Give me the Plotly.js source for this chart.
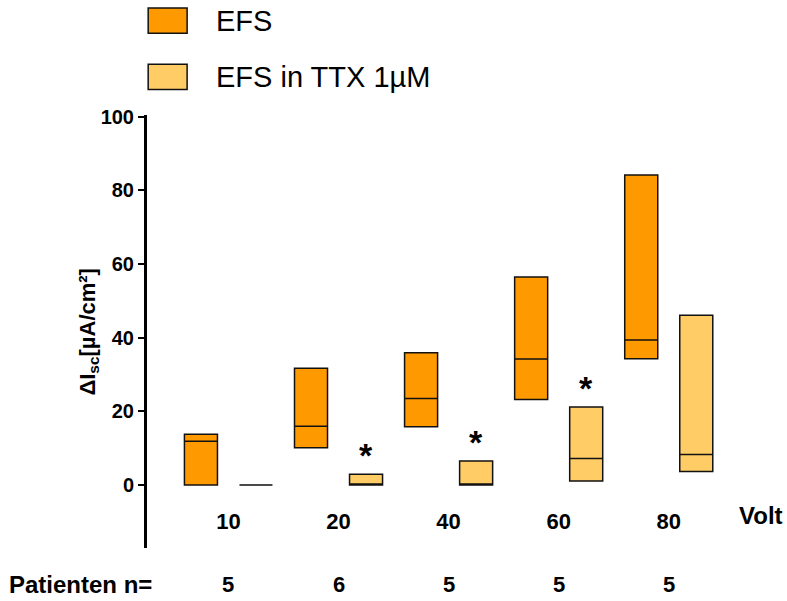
<!DOCTYPE html>
<html>
<head>
<meta charset="utf-8">
<script src="https://cdn.plot.ly/plotly-3.0.1.min.js"></script>
<style>html,body{margin:0;padding:0;background:#fff;}#chart{width:787px;height:601px;}</style>
</head>
<body>
<div id="chart"></div>
<script>
// ---- data ----
const volts = ['10', '20', '40', '60', '80'];
const patients = [5, 6, 5, 5, 5];
const efsQ1 = [0, 10.1, 15.8, 23.2, 34.3];
const efsMedian = [11.9, 16.0, 23.5, 34.2, 39.4];
const efsQ3 = [13.8, 31.7, 35.9, 56.5, 84.2];
const ttxQ1 = [0, 0, 0, 1.1, 3.7];
const ttxMedian = [0, 0, 0, 7.2, 8.3];
const ttxQ3 = [0, 2.9, 6.5, 21.2, 46.1];
const significant = [false, true, true, true, false];
const seriesNames = ['EFS', 'EFS in TTX 1µM'];
const seriesColors = ['#FF9900', '#FFCC66'];

const FONT = 'Liberation Sans, Arial, sans-serif';

function boxTrace(name, color, q1, med, q3) {
  return {
    type: 'box', name: name, x: volts,
    q1: q1, median: med, q3: q3, lowerfence: q1, upperfence: q3,
    fillcolor: color, line: {color: '#111', width: 1.5},
    whiskerwidth: 0, boxpoints: false, showlegend: false, hoverinfo: 'y'
  };
}

const traces = [
  boxTrace(seriesNames[0], seriesColors[0], efsQ1, efsMedian, efsQ3),
  boxTrace(seriesNames[1], seriesColors[1], ttxQ1, ttxMedian, ttxQ3)
];

const annotations = [];
// significance asterisks above TTX boxes
significant.forEach((s, i) => {
  if (s) annotations.push({
    x: i + 0.25, y: ttxQ3[i], xref: 'x', yref: 'y', text: '*', showarrow: false,
    yanchor: 'bottom', yshift: -2, font: {family: FONT, size: 34, color: '#000', weight: 'bold'}
  });
});
// patient counts
patients.forEach((n, i) => annotations.push({
  x: i, y: -0.085, xref: 'x', yref: 'paper', text: String(n), showarrow: false,
  yanchor: 'middle', font: {family: FONT, size: 22, color: '#000', weight: 'bold'}
}));
annotations.push({x: -0.237, y: -0.085, xref: 'paper', yref: 'paper', xanchor: 'left', text: 'Patienten n=',
  showarrow: false, yanchor: 'middle', font: {family: FONT, size: 24, color: '#000', weight: 'bold'}});
annotations.push({x: 1.0, y: 0.075, xref: 'paper', yref: 'paper', xanchor: 'left', text: 'Volt',
  showarrow: false, yanchor: 'middle', font: {family: FONT, size: 24, color: '#000', weight: 'bold'}});
// y title
annotations.push({x: -0.127, y: 0.5, xref: 'paper', yref: 'paper', textangle: -90,
  text: 'ΔI<sub>sc</sub>[µA/cm²]', showarrow: false,
  font: {family: FONT, size: 22, color: '#000', weight: 'bold'}});

// legend (drawn by hand)
const shapes = [];
seriesNames.forEach((nm, i) => {
  const yTop = 1.247 - i * 0.13;
  shapes.push({type: 'rect', xref: 'paper', yref: 'paper', x0: 0.002, x1: 0.068,
    y0: yTop - 0.058, y1: yTop, fillcolor: seriesColors[i], line: {color: '#111', width: 1.5}});
  annotations.push({x: 0.113, y: yTop - 0.029, xref: 'paper', yref: 'paper', xanchor: 'left',
    yanchor: 'middle', text: nm, showarrow: false, font: {family: FONT, size: 29, color: '#000'}});
});

const layout = {
  width: 787, height: 601,
  margin: {l: 147, r: 50.4, t: 115, b: 53},
  paper_bgcolor: '#fff', plot_bgcolor: '#fff',
  boxmode: 'group', boxgap: 0, boxgroupgap: 0.4,
  xaxis: {type: 'category', range: [-0.74, 4.62], showline: false, zeroline: false, showgrid: false,
    ticks: '', anchor: 'free', position: 0.096,
    tickfont: {family: FONT, size: 22, color: '#000', weight: 'bold'}},
  yaxis: {range: [-17.1, 100.5], tickvals: [0, 20, 40, 60, 80, 100], showgrid: false, zeroline: false,
    showline: true, linewidth: 3, linecolor: '#000', ticks: 'outside', ticklen: 6, tickwidth: 2,
    tickcolor: '#000', tickfont: {family: FONT, size: 20, color: '#000', weight: 'bold'}},
  annotations: annotations, shapes: shapes
};

Plotly.newPlot('chart', traces, layout, {displayModeBar: false, staticPlot: true});
</script>
</body>
</html>
